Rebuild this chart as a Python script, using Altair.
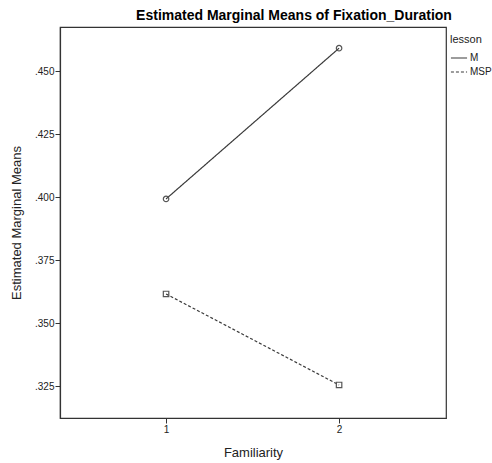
import altair as alt
import pandas as pd

# Estimated marginal means of fixation duration by familiarity and lesson
familiarity = [1, 2, 1, 2]
lesson = ["M", "M", "MSP", "MSP"]
means = [0.3993, 0.4591, 0.3616, 0.3255]

y_ticks = [0.325, 0.350, 0.375, 0.400, 0.425, 0.450]
x_ticks = [1, 2]

df = pd.DataFrame({"Familiarity": familiarity, "lesson": lesson, "mean": means})

FONT = "Liberation Sans"
INK = "#3a3a3a"

x_enc = alt.X(
    "Familiarity:Q",
    scale=alt.Scale(domain=[0.387, 2.618], nice=False, zero=False),
    axis=alt.Axis(values=x_ticks, format="d", title="Familiarity", grid=False,
                  titlePadding=12),
)
y_enc = alt.Y(
    "mean:Q",
    scale=alt.Scale(domain=[0.3124, 0.4675], nice=False, zero=False),
    axis=alt.Axis(values=y_ticks, labelExpr="slice(format(datum.value, '.3f'), 1)",
                  title="Estimated Marginal Means", grid=False, titlePadding=11),
)

lines = alt.Chart(df).mark_line(color=INK, strokeWidth=1.2).encode(
    x=x_enc,
    y=y_enc,
    strokeDash=alt.StrokeDash(
        "lesson:N",
        scale=alt.Scale(domain=["M", "MSP"], range=[[1, 0], [3, 2]]),
        legend=alt.Legend(title="lesson", orient="none", legendX=390, legendY=7,
                          symbolType="stroke", symbolSize=260, symbolStrokeWidth=1.2,
                          symbolStrokeColor=INK, labelFontSize=10, titleFontSize=11,
                          titleFontWeight="normal", rowPadding=0, labelOffset=2,
                          titlePadding=4),
    ),
)

# one marker layer per lesson: circles for M, squares for MSP
base_pts = alt.Chart(df).encode(x=x_enc, y=y_enc)
circles = base_pts.transform_filter(alt.datum.lesson == "M").mark_point(
    shape="circle", filled=False, size=30, color="#555555", strokeWidth=1.2, opacity=1
)
squares = base_pts.transform_filter(alt.datum.lesson == "MSP").mark_point(
    shape="square", filled=False, size=30, color="#555555", strokeWidth=1.2, opacity=1
)

chart = (
    alt.layer(lines, circles, squares)
    .properties(
        width=386,
        height=391,
        autosize=alt.AutoSizeParams(type="none"),
        padding={"left": 60, "top": 27, "right": 46, "bottom": 45},
        title=alt.Title("Estimated Marginal Means of Fixation_Duration",
                        fontSize=14, fontWeight="bold", font=FONT, color="black",
                        anchor="middle", dx=41, offset=4),
    )
    .configure_view(stroke="#333333", strokeWidth=1.2)
    .configure_axis(
        labelFont=FONT, titleFont=FONT, labelFontSize=10, titleFontSize=13,
        labelColor="#222222", titleColor="#222222", titleFontWeight="normal",
        domainColor="#333333", tickColor="#333333", tickSize=5, domainWidth=1.2,
        labelPadding=1,
    )
    .configure_legend(labelFont=FONT, titleFont=FONT, labelColor="#222222",
                      titleColor="#222222")
)

chart.save("out.html", embed_options={"renderer": "svg", "actions": False})
